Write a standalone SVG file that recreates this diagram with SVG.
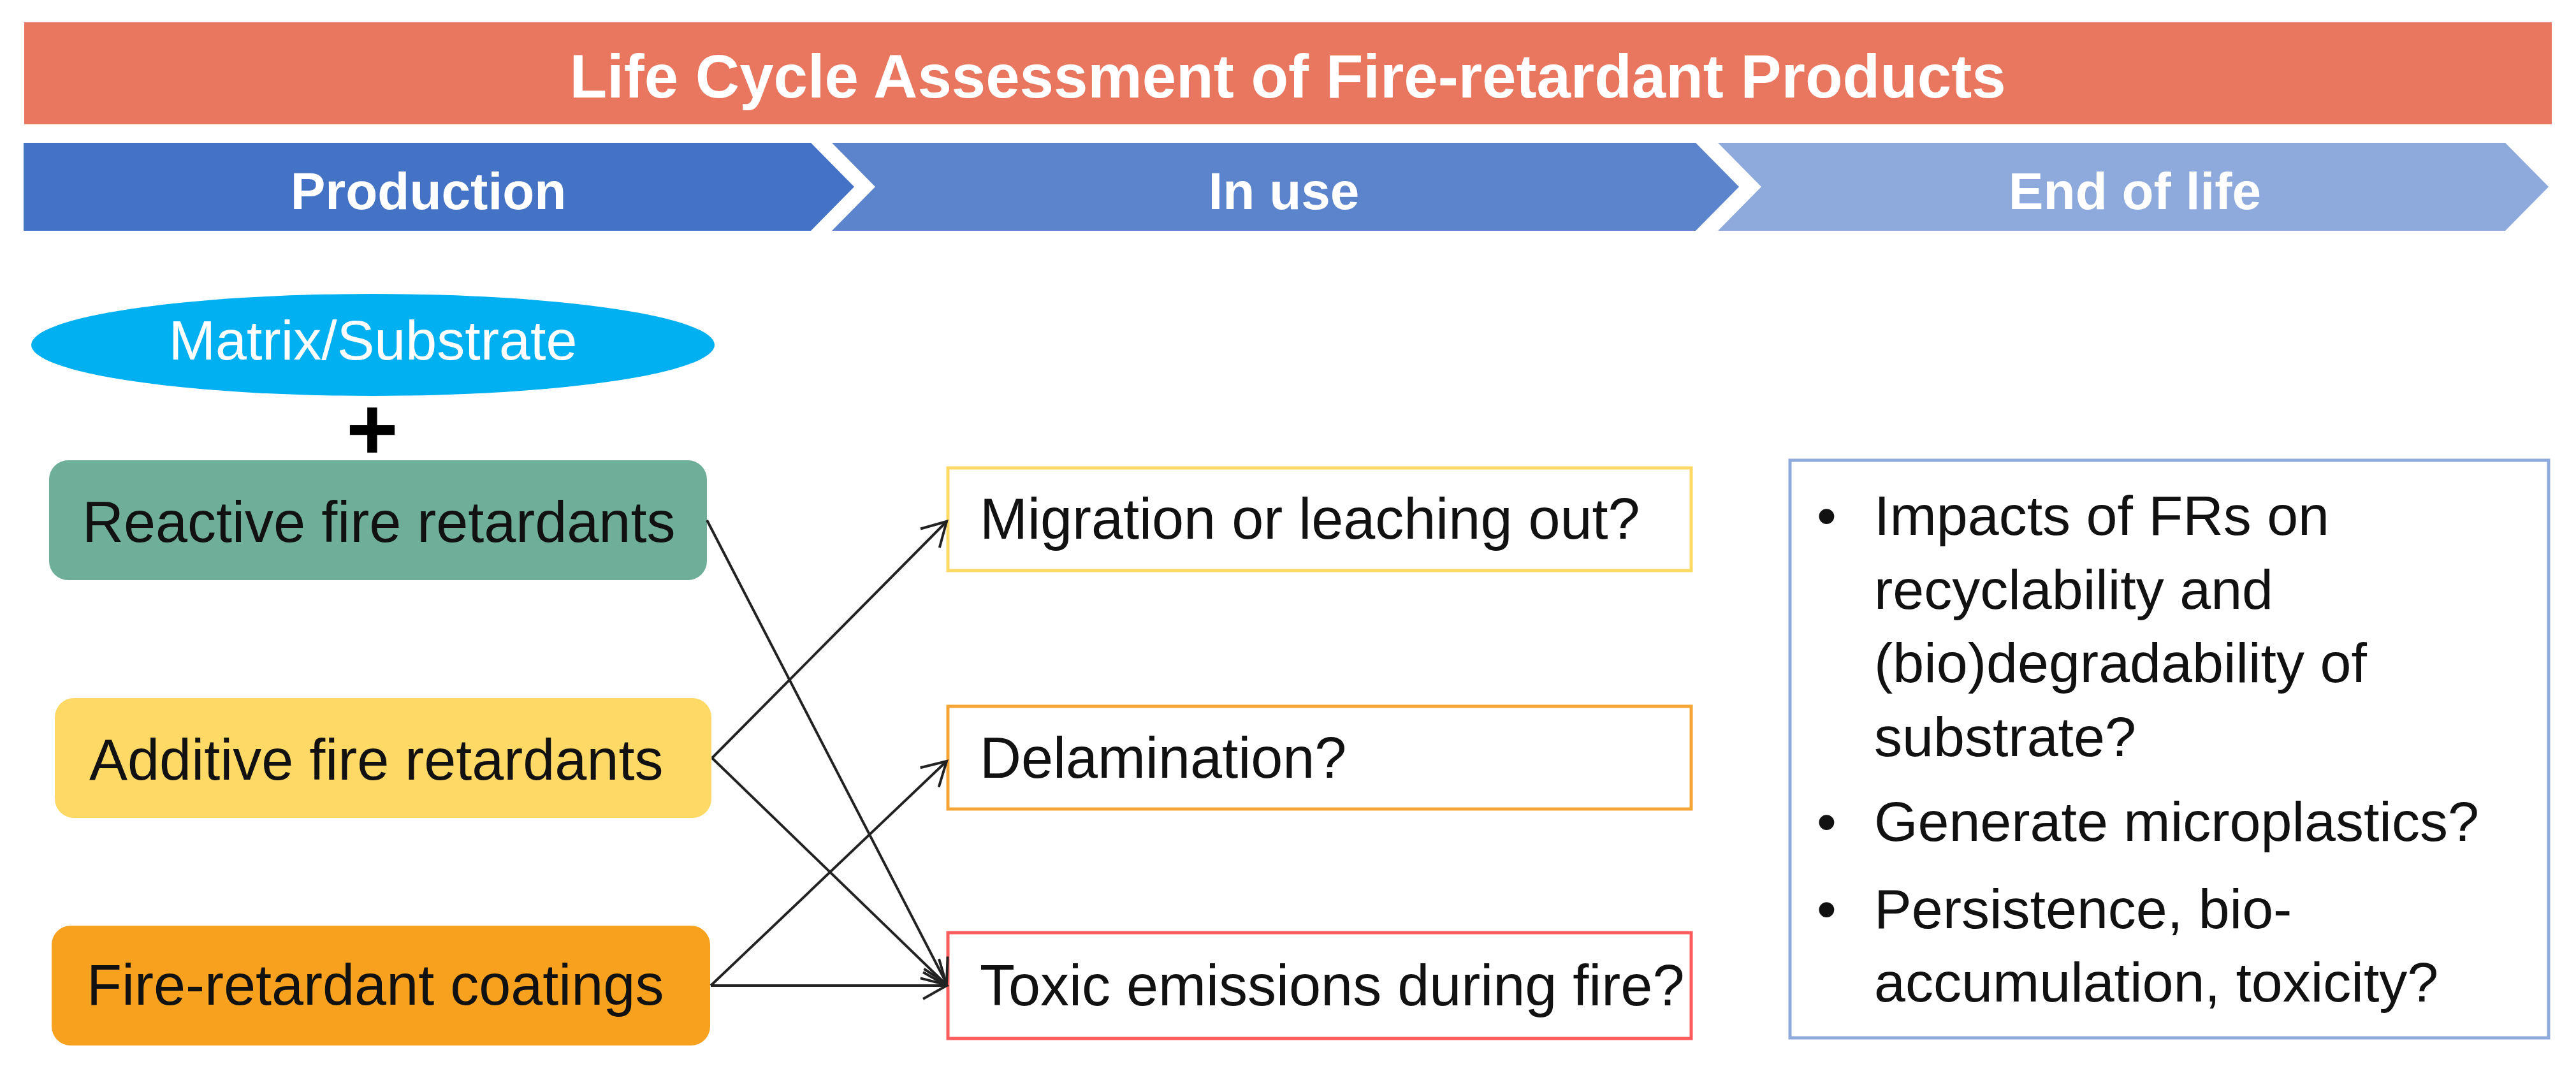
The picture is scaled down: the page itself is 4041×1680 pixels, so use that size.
<svg xmlns="http://www.w3.org/2000/svg" width="4041" height="1680" viewBox="0 0 4041 1680">
<style>
.t{font-family:"Liberation Sans",Arial,sans-serif;}
.w{fill:#ffffff;font-weight:bold;}
.lbl{font-size:90px;fill:#111111;}
.rb{font-size:88px;fill:#111111;}
.box{fill:#ffffff;stroke-width:5;}
.conn{stroke:#222222;stroke-width:4;fill:none;}
</style>
<defs>
<marker id="ah" markerUnits="userSpaceOnUse" markerWidth="60" markerHeight="60" viewBox="-50 -30 60 60" refX="0" refY="0" orient="auto">
<path d="M-37,-21 L0,0 L-37,21" fill="none" stroke="#222222" stroke-width="4"/>
</marker>
</defs>
<rect width="4041" height="1680" fill="#ffffff"/>
<g id="title">
<rect x="38" y="35" width="3965" height="160" fill="#E97760"/>
<text class="t w" x="2020" y="153" font-size="96" text-anchor="middle">Life Cycle Assessment of Fire-retardant Products</text>
</g>
<g id="stage-production">
<path d="M37,224 H1272 L1340,293 L1272,362 H37 Z" fill="#4472C4"/>
<text class="t w" x="672" y="328" font-size="82" text-anchor="middle">Production</text>
</g>
<g id="stage-inuse">
<path d="M1305,224 H2660 L2728,293 L2660,362 H1305 L1373,293 Z" fill="#5B84CC"/>
<text class="t w" x="2014" y="328" font-size="82" text-anchor="middle">In use</text>
</g>
<g id="stage-endoflife">
<path d="M2695,224 H3930 L3998,293 L3930,362 H2695 L2763,293 Z" fill="#8EA9DB"/>
<text class="t w" x="3349" y="328" font-size="82" text-anchor="middle">End of life</text>
</g>
<g id="matrix">
<ellipse cx="585" cy="541" rx="536" ry="80" fill="#00B0F0"/>
<text class="t" x="585" y="564" font-size="88" fill="#ffffff" text-anchor="middle">Matrix/Substrate</text>
</g>
<g id="plus">
<text class="t" x="584" y="721" font-size="140" font-weight="bold" fill="#000000" text-anchor="middle">+</text>
</g>
<g id="reactive">
<rect x="77" y="722" width="1032" height="188" rx="30" fill="#6FAF99"/>
<text class="t lbl" x="129" y="850">Reactive fire retardants</text>
</g>
<g id="additive">
<rect x="86" y="1095" width="1030" height="188" rx="30" fill="#FFD966"/>
<text class="t lbl" x="140" y="1223">Additive fire retardants</text>
</g>
<g id="coatings">
<rect x="81" y="1452" width="1033" height="188" rx="30" fill="#F8A11F"/>
<text class="t lbl" x="136" y="1576">Fire-retardant coatings</text>
</g>
<g id="migration">
<rect class="box" x="1487" y="734" width="1166" height="161" stroke="#FFD966"/>
<text class="t lbl" x="1537" y="845">Migration or leaching out?</text>
</g>
<g id="delamination">
<rect class="box" x="1487" y="1108" width="1166" height="161" stroke="#F4A535"/>
<text class="t lbl" x="1537" y="1220">Delamination?</text>
</g>
<g id="toxic">
<rect class="box" x="1487" y="1463" width="1166" height="166" stroke="#FF5D5D"/>
<text class="t lbl" x="1537" y="1577">Toxic emissions during fire?</text>
</g>
<g id="endoflife-box">
<rect class="box" x="2808" y="722" width="1190" height="906" stroke="#8EA9DB" stroke-width="4"/>
<g class="t rb">
<text x="2850" y="839">•</text>
<text x="2940" y="839">Impacts of FRs on</text>
<text x="2940" y="955">recyclability and</text>
<text x="2940" y="1070">(bio)degradability of</text>
<text x="2940" y="1186">substrate?</text>
<text x="2850" y="1319">•</text>
<text x="2940" y="1319">Generate microplastics?</text>
<text x="2850" y="1456">•</text>
<text x="2940" y="1456">Persistence, bio-</text>
<text x="2940" y="1571">accumulation, toxicity?</text>
</g>
</g>
<g id="connectors">
<line class="conn" x1="1109" y1="816" x2="1485" y2="1543" marker-end="url(#ah)"/>
<line class="conn" x1="1117" y1="1189" x2="1485" y2="818" marker-end="url(#ah)"/>
<line class="conn" x1="1117" y1="1189" x2="1485" y2="1545" marker-end="url(#ah)"/>
<line class="conn" x1="1115" y1="1546" x2="1485" y2="1194" marker-end="url(#ah)"/>
<line class="conn" x1="1115" y1="1546" x2="1485" y2="1546" stroke="#4a4a4a" stroke-width="6" marker-end="url(#ah)"/>
</g>
</svg>
